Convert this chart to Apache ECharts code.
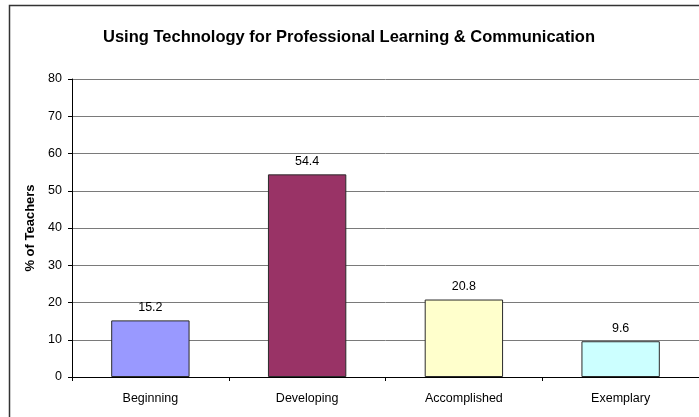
<!DOCTYPE html>
<html>
<head>
<meta charset="utf-8">
<script src="https://cdn.jsdelivr.net/npm/echarts@6/dist/echarts.min.js"></script>
<style>
  html, body { margin: 0; padding: 0; background: #fff; }
  #chart { width: 699px; height: 417px; }
</style>
</head>
<body>
<div id="chart"></div>
<script>
// Teacher self-ratings on professional learning & communication with technology
const categories = ['Beginning', 'Developing', 'Accomplished', 'Exemplary'];
const percentTeachers = [15.2, 54.4, 20.8, 9.6];
const barColors = ['#9999FF', '#993366', '#FFFFCC', '#CCFFFF'];
const yTicks = { min: 0, max: 80, interval: 10 };

const FONT = '"Liberation Sans", Arial, sans-serif';

const chart = echarts.init(document.getElementById('chart'), null, { renderer: 'canvas' });

chart.setOption({
  backgroundColor: '#ffffff',
  animation: false,
  title: {
    text: 'Using Technology for Professional Learning & Communication',
    left: 344,
    top: 24,
    textAlign: 'center',
    textStyle: { fontFamily: FONT, fontSize: 16.5, fontWeight: 'bold', color: '#000' }
  },
  graphic: [{
    type: 'rect',
    shape: { x: 9.5, y: 5.5, width: 720, height: 440 },
    style: { fill: 'none', stroke: '#333', lineWidth: 1.5 },
    silent: true,
    z: 100
  }],
  grid: { left: 72, top: 79, right: -1, bottom: 40, containLabel: false },
  xAxis: {
    type: 'category',
    data: categories,
    axisLine: { lineStyle: { color: '#000', width: 1 } },
    axisTick: { show: true, alignWithLabel: false, length: 4, lineStyle: { color: '#000' } },
    axisLabel: { fontFamily: FONT, fontSize: 12.5, color: '#000', margin: 15 }
  },
  yAxis: {
    type: 'value',
    min: yTicks.min,
    max: yTicks.max,
    interval: yTicks.interval,
    name: '% of Teachers',
    nameLocation: 'middle',
    nameGap: 32,
    nameTextStyle: { fontFamily: FONT, fontSize: 13, fontWeight: 'bold', color: '#000' },
    axisLine: { show: true, lineStyle: { color: '#000', width: 1 } },
    axisTick: { show: true, length: 4, lineStyle: { color: '#000' } },
    axisLabel: { fontFamily: FONT, fontSize: 12.5, color: '#000', margin: 10 },
    splitLine: { show: true, lineStyle: { color: '#7a7a7a', width: 1 } }
  },
  series: [{
    type: 'bar',
    barWidth: '50%',
    data: percentTeachers.map((v, i) => ({
      value: v,
      itemStyle: { color: barColors[i] }
    })),
    itemStyle: { borderColor: '#2a2a2a', borderWidth: 1 },
    label: {
      show: true,
      position: 'top',
      distance: 6,
      fontFamily: FONT,
      fontSize: 12.5,
      color: '#000',
      formatter: p => p.value.toFixed(1)
    }
  }]
});
</script>
</body>
</html>
